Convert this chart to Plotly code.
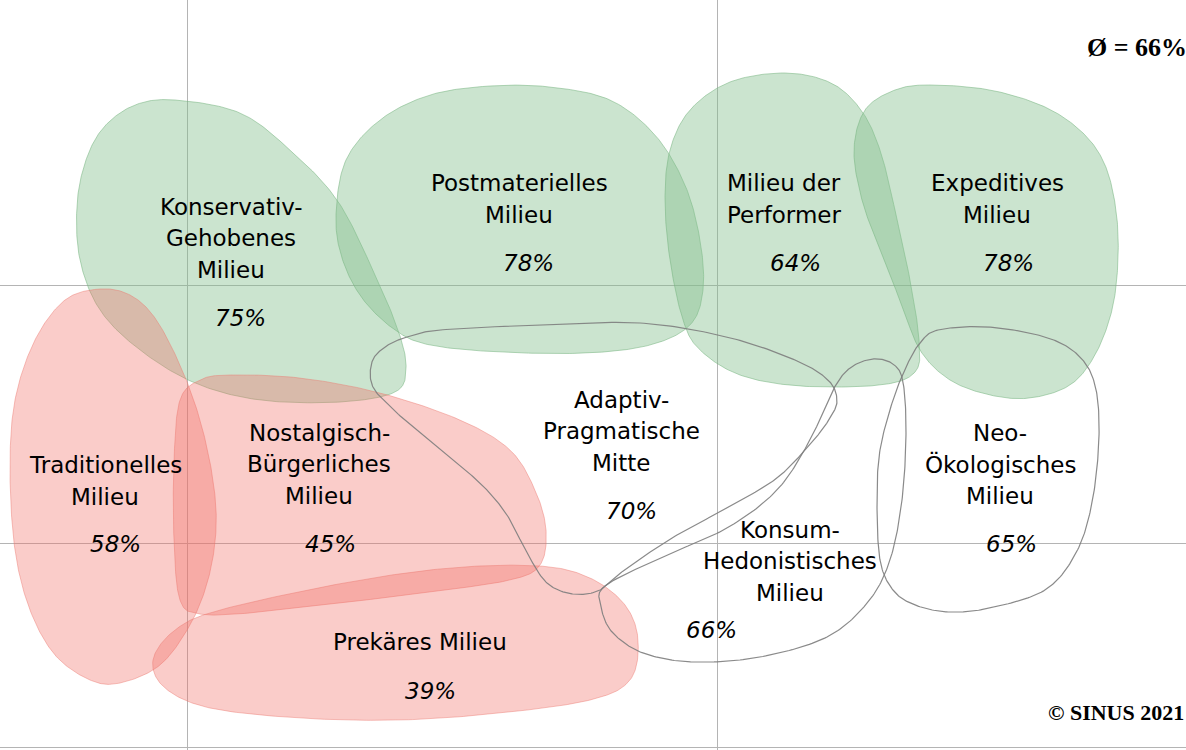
import numpy as np
import plotly.graph_objects as go

# ---------------- data ----------------
milieus = [
    "Konservativ-Gehobenes Milieu", "Postmaterielles Milieu", "Milieu der Performer",
    "Expeditives Milieu", "Traditionelles Milieu", "Nostalgisch-Bürgerliches Milieu",
    "Prekäres Milieu", "Adaptiv-Pragmatische Mitte", "Konsum-Hedonistisches Milieu",
    "Neo-Ökologisches Milieu",
]
name_lines = [
    ["Konservativ-", "Gehobenes", "Milieu"],
    ["Postmaterielles", "Milieu"],
    ["Milieu der", "Performer"],
    ["Expeditives", "Milieu"],
    ["Traditionelles", "Milieu"],
    ["Nostalgisch-", "Bürgerliches", "Milieu"],
    ["Prekäres Milieu"],
    ["Adaptiv-", "Pragmatische", "Mitte"],
    ["Konsum-", "Hedonistisches", "Milieu"],
    ["Neo-", "Ökologisches", "Milieu"],
]
shares = [75, 78, 64, 78, 58, 45, 39, 70, 66, 65]
groups = ["green", "green", "green", "green", "red", "red", "red", "line", "line", "line"]
average = 66
copyright_text = "© SINUS 2021"

# ---------------- layout geometry (map space, pixels) ----------------
name_pos = [(231, 238), (519, 199), (784, 199), (997, 199), (105, 481), (319, 464),
            (420, 642), (621, 431), (790, 561), (1000, 464)]
pct_pos = [(240, 318), (528, 263), (795, 263), (1008, 263), (115, 544), (330, 544),
           (430, 691), (631, 511), (711, 630), (1011, 544)]
line_pitch = 31.5

blob_ctrl = [
    [(175, 100), (240, 113), (290, 150), (337, 200), (372, 268), (398, 330), (406, 368),
     (395, 392), (340, 402), (260, 400), (195, 383), (140, 350), (100, 310), (80, 260),
     (77, 205), (86, 160), (104, 127), (135, 105)],
    [(490, 86), (550, 87), (610, 100), (655, 135), (685, 185), (700, 240), (703, 290),
     (690, 325), (650, 345), (586, 353), (500, 352), (430, 345), (395, 330), (362, 298),
     (342, 258), (336, 215), (346, 160), (380, 120), (430, 95)],
    [(785, 73), (831, 83), (861, 110), (880, 150), (895, 210), (910, 280), (919, 340),
     (915, 372), (880, 385), (800, 386), (740, 375), (700, 350), (683, 320), (670, 260),
     (665, 200), (670, 150), (690, 110), (730, 82)],
    [(930, 85), (990, 90), (1045, 107), (1083, 133), (1105, 165), (1116, 210), (1118, 260),
     (1112, 310), (1095, 355), (1070, 385), (1030, 398), (990, 395), (950, 380), (920, 350),
     (900, 300), (880, 250), (862, 200), (854, 150), (865, 110), (895, 90)],
    [(100, 289), (130, 295), (155, 318), (180, 365), (200, 420), (213, 480), (216, 530),
     (208, 580), (190, 625), (160, 665), (120, 683), (90, 680), (55, 655), (30, 610),
     (15, 550), (10, 470), (15, 400), (35, 340), (65, 300)],
    [(230, 375), (300, 378), (380, 393), (460, 420), (510, 450), (535, 490), (546, 530),
     (540, 565), (510, 580), (430, 592), (340, 603), (250, 613), (200, 614), (180, 600),
     (174, 540), (174, 460), (180, 400), (200, 380)],
    [(153, 660), (175, 630), (220, 610), (344, 583), (450, 568), (540, 566), (590, 578),
     (625, 605), (638, 640), (630, 680), (590, 700), (500, 713), (400, 720), (300, 718),
     (210, 708), (165, 688)],
    [(407, 337), (440, 330), (540, 325), (640, 323), (727, 337), (795, 360), (828, 380),
     (837, 400), (830, 418), (812, 442), (777, 478), (727, 508), (677, 535), (627, 568),
     (600, 590), (573, 594), (547, 583), (527, 553), (507, 515), (480, 483), (440, 450),
     (397, 413), (373, 387), (372, 362), (385, 347)],
    [(605, 586), (660, 558), (727, 528), (777, 490), (810, 440), (833, 390), (850, 368),
     (873, 359), (893, 364), (903, 382), (906, 433), (902, 500), (890, 560), (868, 602),
     (827, 637), (760, 657), (693, 662), (643, 653), (612, 632), (601, 606)],
    [(938, 330), (988, 327), (1045, 337), (1078, 355), (1095, 385), (1099, 437), (1092, 503),
     (1076, 553), (1045, 590), (990, 608), (949, 612), (915, 605), (893, 590), (880, 560),
     (877, 500), (880, 450), (893, 400), (907, 365), (920, 343)],
]

styles = {
    "green": dict(fill="rgba(130,190,140,0.42)", line="rgba(120,180,130,0.55)", width=1),
    "red": dict(fill="rgba(240,110,100,0.35)", line="rgba(235,120,110,0.45)", width=1),
    "line": dict(fill=None, line="rgba(125,125,125,0.9)", width=1.2),
}


def closed_spline(pts, n=24):
    P = np.array(pts, float)
    N = len(P)
    t = np.linspace(0, 1, n, endpoint=False)[:, None]
    segs = []
    for i in range(N):
        p0, p1, p2, p3 = P[(i - 1) % N], P[i], P[(i + 1) % N], P[(i + 2) % N]
        segs.append(0.5 * (2 * p1 + (-p0 + p2) * t + (2 * p0 - 5 * p1 + 4 * p2 - p3) * t ** 2
                           + (-p0 + 3 * p1 - 3 * p2 + p3) * t ** 3))
    out = np.vstack(segs)
    return np.vstack([out, out[:1]])


fig = go.Figure()
order = [i for i, g in enumerate(groups) if g == "green"] + \
        [i for i, g in enumerate(groups) if g == "red"] + \
        [i for i, g in enumerate(groups) if g == "line"]
for i in order:
    st = styles[groups[i]]
    c = closed_spline(blob_ctrl[i])
    kw = dict(fill="toself", fillcolor=st["fill"]) if st["fill"] else dict(fill="none")
    fig.add_trace(go.Scatter(x=c[:, 0], y=c[:, 1], mode="lines", name=milieus[i],
                             line=dict(color=st["line"], width=st["width"]),
                             hoverinfo="skip", showlegend=False, **kw))

label_font = dict(family="DejaVu Sans", size=23, color="black")
ann = []
for i in range(len(milieus)):
    cx, cy = name_pos[i]
    n = len(name_lines[i])
    for k, txt in enumerate(name_lines[i]):
        ann.append(dict(x=cx, y=cy + (k - (n - 1) / 2) * line_pitch, text=txt, showarrow=False,
                        xref="x", yref="y", xanchor="center", yanchor="middle", font=label_font))
    px, py = pct_pos[i]
    ann.append(dict(x=px, y=py, text=f"<i>{shares[i]}%</i>", showarrow=False, xref="x", yref="y",
                    xanchor="center", yanchor="middle", font=label_font))

ann.append(dict(x=1085, y=47, text=f"<b>Ø = {average}%</b>", showarrow=False, xref="x", yref="y",
                xanchor="left", yanchor="middle",
                font=dict(family="Liberation Serif", size=26, color="black")))
ann.append(dict(x=1186, y=712, text=f"<b>{copyright_text}</b>", showarrow=False, xref="x", yref="y",
                xanchor="right", yanchor="middle",
                font=dict(family="Liberation Serif", size=22, color="black")))

fig.update_layout(
    width=1186, height=750, margin=dict(l=0, r=0, t=0, b=0),
    paper_bgcolor="white", plot_bgcolor="white", annotations=ann, showlegend=False,
    xaxis=dict(range=[0, 1186], showgrid=True, gridcolor="#b4b4b4", gridwidth=1.3,
               tickvals=[187, 717], showticklabels=False, zeroline=False, ticks="",
               fixedrange=True),
    yaxis=dict(range=[750, 0], showgrid=True, gridcolor="#b4b4b4", gridwidth=1.3,
               tickvals=[285, 543, 747], showticklabels=False, zeroline=False, ticks="",
               fixedrange=True),
)
fig.write_html("out.html", config={"displayModeBar": False},
               post_script="document.body.style.margin='0';document.body.style.overflow='hidden';")
